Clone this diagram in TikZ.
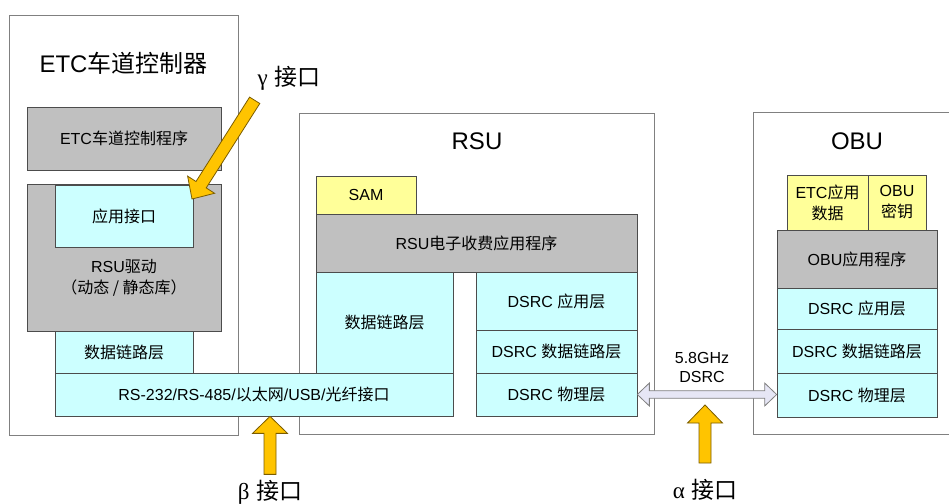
\documentclass[tikz,border=0pt]{standalone}
\usepackage{fontspec}
\setmainfont{Liberation Sans}
\newfontfamily\cjk{Noto Sans CJK SC}
\newfontfamily\grk{Liberation Serif}
\newcommand\zh[1]{{\cjk #1}}
\usetikzlibrary{calc}
\definecolor{cgrey}{HTML}{C0C0C0}
\definecolor{ccyan}{HTML}{CCFFFF}
\definecolor{cyel}{HTML}{FFFF99}
\definecolor{cframe}{HTML}{808080}
\definecolor{carrow}{HTML}{FFC400}
\definecolor{carrowline}{HTML}{7A5C00}
\definecolor{clav}{HTML}{E6E6F5}
\begin{document}
\begin{tikzpicture}[x=1pt,y=-1pt,
  outer/.style={draw=cframe, fill=white, line width=0.9pt, inner sep=0pt},
  layer/.style={draw=black!70, line width=0.7pt, inner sep=0pt, align=center,
    font=\fontsize{16}{21}\selectfont},
  greyb/.style={layer, fill=cgrey},
  cyanb/.style={layer, fill=ccyan},
  yelb/.style={layer, fill=cyel},
  ttl/.style={font=\fontsize{24}{28}\selectfont, inner sep=0pt},
  lbl/.style={font=\fontsize{23}{26}\selectfont, inner sep=0pt},
  small/.style={font=\fontsize{16}{19}\selectfont, inner sep=0pt, align=center},
  blockarrow/.style={draw=carrowline, fill=carrow, line width=0.8pt, line join=miter},
  dsrcarrow/.style={draw=cframe, fill=clav, line width=0.8pt, line join=miter}
]
\useasboundingbox (0,0) rectangle (949,503);

% ---------- ETC lane controller ----------
\node[outer, minimum width=229pt, minimum height=420pt] (etc) at (123.5,225) {};
\node[ttl] (etct) at (123.5,63) {ETC\zh{车道控制器}};
\node[greyb, minimum width=194pt, minimum height=63pt] (prog) at (124,138.5) {ETC\zh{车道控制程序}};
\node[greyb, minimum width=194pt, minimum height=147pt] (drv) at (124,257.5) {};
\node[small, font=\fontsize{16}{21}\selectfont] (drvt) at (124,277.5) {RSU\zh{驱动}\\\zh{（动态 / 静态库）}};
\node[cyanb, minimum width=138pt, minimum height=62pt] (api) at (124,216) {\zh{应用接口}};
\node[cyanb, minimum width=138pt, minimum height=42pt] (ldl) at (124,352) {\zh{数据链路层}};

% ---------- RSU ----------
\node[outer, minimum width=355pt, minimum height=321pt] (rsu) at (476.5,273.5) {};
\node[ttl] (rsut) at (477,141) {RSU};
\node[yelb, minimum width=100pt, minimum height=38pt] (sam) at (366,195) {SAM};
\node[greyb, minimum width=321pt, minimum height=58pt] (rapp) at (476.5,243) {RSU\zh{电子收费应用程序}};
\node[cyanb, minimum width=137pt, minimum height=101pt] (rdl) at (384.5,322.5) {\zh{数据链路层}};
\node[cyanb, minimum width=161pt, minimum height=58pt] (rda) at (556.5,301) {DSRC \zh{应用层}};
\node[cyanb, minimum width=161pt, minimum height=43pt] (rdd) at (556.5,351.5) {DSRC \zh{数据链路层}};
\node[cyanb, minimum width=161pt, minimum height=43pt] (rdp) at (556.5,394.5) {DSRC \zh{物理层}};

% serial interface spanning both
\node[cyanb, minimum width=398pt, minimum height=43pt] (rs) at (254,394.5) {RS-232/RS-485/\zh{以太网}/USB/\zh{光纤接口}};

% ---------- OBU ----------
\node[outer, minimum width=207pt, minimum height=322pt] (obu) at (856.5,273) {};
\node[ttl] (obut) at (857,141) {OBU};
\node[yelb, minimum width=81pt, minimum height=55pt] (edata) at (827.5,202.5) {ETC\zh{应用}\\\zh{数据}};
\node[yelb, minimum width=58pt, minimum height=55pt] (okey) at (897,202.5) {OBU\\\zh{密钥}};
\node[greyb, minimum width=160pt, minimum height=58pt] (oapp) at (857,259) {OBU\zh{应用程序}};
\node[cyanb, minimum width=160pt, minimum height=41pt] (oda) at (857,308.5) {DSRC \zh{应用层}};
\node[cyanb, minimum width=160pt, minimum height=44pt] (odd) at (857,351) {DSRC \zh{数据链路层}};
\node[cyanb, minimum width=160pt, minimum height=44pt] (odp) at (857,395) {DSRC \zh{物理层}};

% ---------- DSRC double arrow ----------
\coordinate (la) at (rdp.east);
\coordinate (ra) at (odp.west |- rdp.east);
\draw[dsrcarrow] (la) -- ($(la)+(12,-11.5)$) -- ($(la)+(12,-3.8)$)
  -- ($(ra)+(-12,-3.8)$) -- ($(ra)+(-12,-11.5)$) -- (ra)
  -- ($(ra)+(-12,11.5)$) -- ($(ra)+(-12,3.8)$)
  -- ($(la)+(12,3.8)$) -- ($(la)+(12,11.5)$) -- cycle;
\node[small] (ghz) at (702,367) {5.8GHz\\DSRC};

% ---------- interface arrows ----------
% gamma
\coordinate (gtip) at (192,199);
\draw[blockarrow] (gtip) -- (214.6,193.3) -- (206.2,187.9) -- (259.8,103.5)
  -- (249.6,97.1) -- (196.0,181.5) -- (187.6,176.1) -- cycle;
\node[lbl] (gam) at (289,78) {{\grk γ} \zh{接口}};

% beta
\coordinate (btip) at ($(rs.south)+(16,0)$);
\draw[blockarrow] (btip) -- ($(btip)+(17.5,17)$) -- ($(btip)+(6,17)$) -- ($(btip)+(6,58)$)
  -- ($(btip)+(-6,58)$) -- ($(btip)+(-6,17)$) -- ($(btip)+(-17.5,17)$) -- cycle;
\node[lbl] (bet) at (270,492) {{\grk β} \zh{接口}};

% alpha
\coordinate (atip) at (705,405);
\draw[blockarrow] (atip) -- ($(atip)+(17.5,18)$) -- ($(atip)+(6,18)$) -- ($(atip)+(6,58)$)
  -- ($(atip)+(-6,58)$) -- ($(atip)+(-6,18)$) -- ($(atip)+(-17.5,18)$) -- cycle;
\node[lbl] (alp) at (705,490) {{\grk α} \zh{接口}};
\end{tikzpicture}
\end{document}
